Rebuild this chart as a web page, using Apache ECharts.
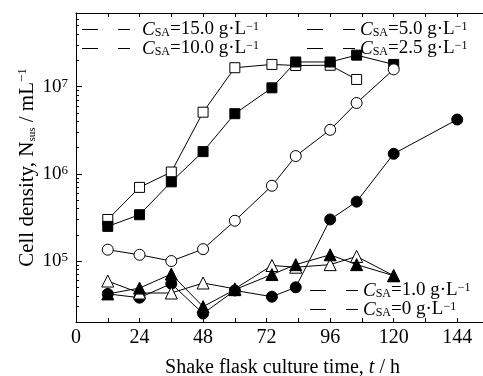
<!DOCTYPE html>
<html>
<head>
<meta charset="utf-8">
<script src="https://cdn.jsdelivr.net/npm/echarts@6/dist/echarts.min.js"></script>
<style>
  html, body { margin: 0; padding: 0; background: #fff; }
  #chart { width: 483px; height: 376px; }
</style>
</head>
<body>
<div id="chart"></div>
<script>
// sampling times (h)
const timeH = [12, 24, 36, 48, 60, 74, 83, 96, 106, 120];
const timeH25 = [12, 24, 36, 48, 60, 74, 83, 96, 106, 120, 144];

// cell density per C_SA (cells / mL)
const cSA15 = [3.0e5, 7.0e5, 1.05e6, 5.1e6, 1.65e7, 1.8e7, 1.75e7, 1.76e7, 1.21e7];
const cSA10 = [2.5e5, 3.4e5, 8.1e5, 1.8e6, 4.9e6, 9.7e6, 1.92e7, 1.92e7, 2.3e7, 1.8e7];
const cSA5 = [1.35e5, 1.18e5, 1.0e5, 1.37e5, 2.9e5, 7.3e5, 1.6e6, 3.2e6, 6.5e6, 1.58e7];
const cSA25 = [4.2e4, 3.8e4, 5.5e4, 2.5e4, 4.6e4, 3.9e4, 5.0e4, 3.0e5, 4.8e5, 1.7e6, 4.2e6];
const cSA1 = [5.9e4, 4.3e4, 4.3e4, 5.6e4, 4.8e4, 8.9e4, 8.5e4, 9.1e4, 1.13e5, 6.8e4];
const cSA0 = [4.2e4, 4.9e4, 7.1e4, 3.0e4, 4.7e4, 7.0e4, 9.1e4, 1.18e5, 9.1e4, 6.8e4];

const seriesNames = ['15.0', '10.0', '5.0', '2.5', '1.0', '0'];
const xTicks = [0, 24, 48, 72, 96, 120, 144];
const yMajor = [1e5, 1e6, 1e7];

const FONT = 'Liberation Serif';
const yMin = 2e4, yMax = 7e7;

// minor log ticks 2..9 per decade
let yMinor = [];
for (let e = 4; e <= 7; e++) {
  for (let k = 2; k <= 9; k++) {
    const v = k * Math.pow(10, e);
    if (v >= yMin && v <= yMax) yMinor.push(v);
  }
}

function pairs(ts, vs) {
  return vs.map((v, i) => [ts[i], v]);
}

const legendRich = {
  i: { fontFamily: FONT, fontSize: 19, fontStyle: 'italic', color: '#000', lineHeight: 18 },
  s: { fontFamily: FONT, fontSize: 12, color: '#000', verticalAlign: 'bottom', lineHeight: 10 },
  n: { fontFamily: FONT, fontSize: 19, color: '#000', lineHeight: 18 },
  p: { fontFamily: FONT, fontSize: 12, color: '#000', verticalAlign: 'top', lineHeight: 10 }
};
function legendText(name) {
  return '{i|C}{s|SA}{n|=' + name + ' g·L}{p|−1}';
}
const dashIcon = 'path://M0,0H16V1H0Z M36,0H48V1H36Z';

function legendAt(names, left, top, pad) {
  return {
    data: names,
    orient: 'vertical',
    left: left,
    top: top,
    icon: dashIcon,
    itemWidth: 48,
    itemHeight: 1,
    itemGap: 0,
    padding: 0,
    selectedMode: false,
    itemStyle: { color: '#000', borderWidth: 0 },
    formatter: legendText,
    textStyle: { rich: legendRich, padding: [0, 0, 0, pad] }
  };
}

function line(name, ts, vs, symbol, size, open) {
  return {
    name: name,
    type: 'line',
    data: pairs(ts, vs),
    symbol: symbol,
    symbolSize: size,
    showSymbol: true,
    color: '#000',
    lineStyle: { color: '#000', width: 1 },
    itemStyle: { color: open ? '#fff' : '#000', borderColor: '#000', borderWidth: 1 },
    emphasis: { disabled: true },
    z: 3
  };
}

const chart = echarts.init(document.getElementById('chart'), null, { renderer: 'canvas' });
chart.setOption({
  animation: false,
  backgroundColor: '#fff',
  grid: { left: 76, top: 13, bottom: 54, right: -6, containLabel: false, outerBoundsMode: 'none' },
  legend: [
    legendAt(['15.0', '10.0'], 82, 20, 7),
    legendAt(['5.0', '2.5'], 307, 20, 0),
    legendAt(['1.0', '0'], 310, 281, 0)
  ],
  xAxis: [
    {
      type: 'value', min: 0, max: 156, interval: 12,
      name: '{n|Shake flask culture time, }{i|t}{n| / h}',
      nameLocation: 'middle', nameGap: 36, nameMoveOverlap: false,
      nameTextStyle: { rich: {
        n: { fontFamily: FONT, fontSize: 20, color: '#000' },
        i: { fontFamily: FONT, fontSize: 20, fontStyle: 'italic', color: '#000' }
      } },
      axisLine: { lineStyle: { color: '#000', width: 1 } },
      axisTick: { inside: true, length: 4, lineStyle: { color: '#000' } },
      axisLabel: {
        fontFamily: FONT, fontSize: 20, color: '#000', margin: 6,
        formatter: v => (xTicks.indexOf(v) >= 0 ? String(v) : '')
      },
      splitLine: { show: false }
    },
    {
      type: 'value', position: 'top', min: 0, max: 156, interval: 12,
      axisLine: { lineStyle: { color: '#000', width: 1 } },
      axisTick: { inside: true, length: 4, lineStyle: { color: '#000' } },
      axisLabel: { show: false },
      splitLine: { show: false }
    }
  ],
  yAxis: [
    {
      type: 'log', min: yMin, max: yMax,
      name: '{n|Cell density, N}{s|sus}{n| / mL}{p|−1}',
      nameLocation: 'middle', nameGap: 38, nameRotate: 90, nameMoveOverlap: false,
      nameTextStyle: { rich: {
        n: { fontFamily: FONT, fontSize: 21, color: '#000', lineHeight: 22 },
        s: { fontFamily: FONT, fontSize: 11, color: '#000', verticalAlign: 'bottom', lineHeight: 10 },
        p: { fontFamily: FONT, fontSize: 13, color: '#000', verticalAlign: 'top', lineHeight: 10 }
      } },
      axisLine: { lineStyle: { color: '#000', width: 1 } },
      axisTick: { inside: true, length: 6, customValues: yMajor, lineStyle: { color: '#000' } },
      axisLabel: {
        customValues: yMajor,
        margin: 8,
        formatter: v => '{b|10}{e|' + Math.round(Math.log10(v)) + '}',
        rich: {
          b: { fontFamily: FONT, fontSize: 19, color: '#000', lineHeight: 20 },
          e: { fontFamily: FONT, fontSize: 13, color: '#000', verticalAlign: 'top', lineHeight: 12 }
        }
      },
      splitLine: { show: false }
    },
    {
      type: 'log', min: yMin, max: yMax, position: 'left',
      axisLine: { show: false },
      axisTick: { inside: true, length: 3, customValues: yMinor, lineStyle: { color: '#000' } },
      axisLabel: { show: false },
      splitLine: { show: false }
    }
  ],
  series: [
    line('15.0', timeH, cSA15, 'rect', 10, true),
    line('10.0', timeH, cSA10, 'rect', 10, false),
    line('5.0', timeH, cSA5, 'circle', 11, true),
    line('2.5', timeH25, cSA25, 'circle', 11, false),
    line('1.0', timeH, cSA1, 'triangle', 12, true),
    line('0', timeH, cSA0, 'triangle', 12, false)
  ]
});
</script>
</body>
</html>
